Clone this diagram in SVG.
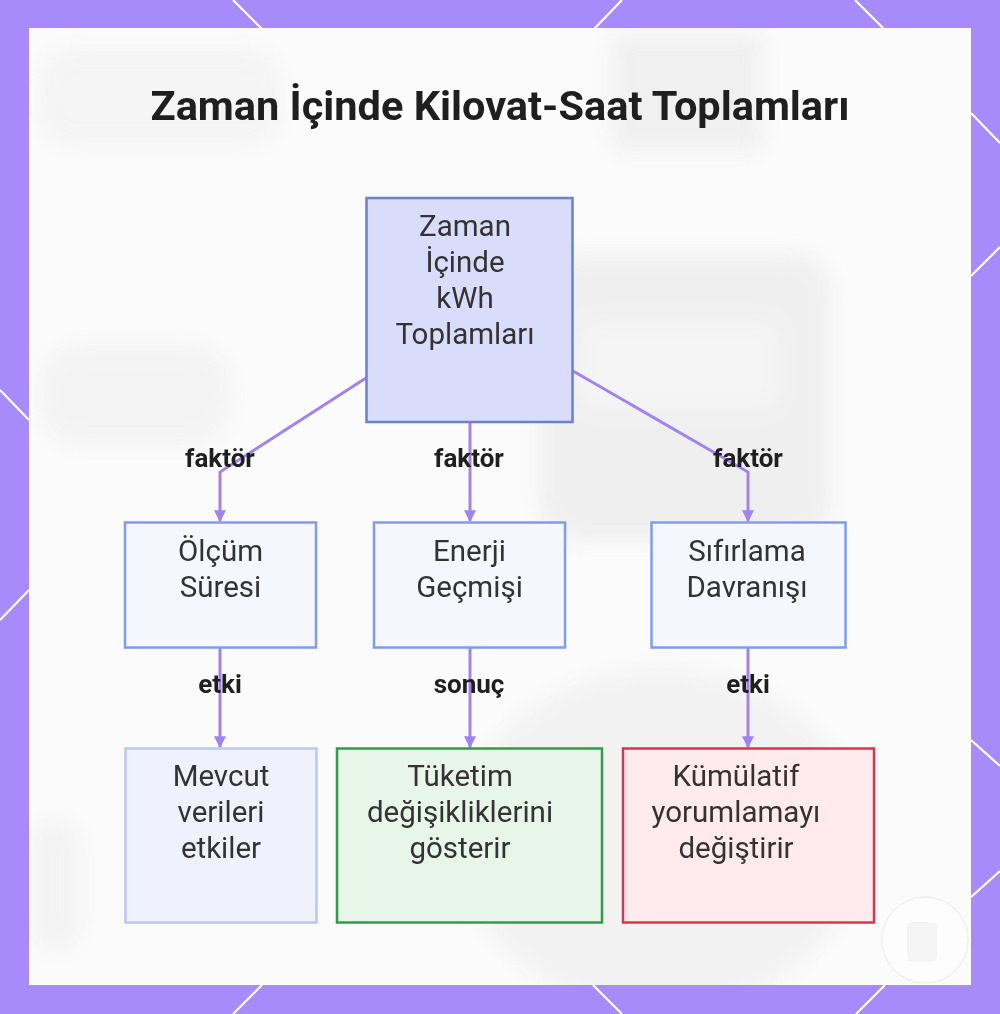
<svg xmlns="http://www.w3.org/2000/svg" width="1000" height="1014" viewBox="0 0 1000 1014">
  <defs>
    <filter id="blur" x="-30%" y="-30%" width="160%" height="160%">
      <feGaussianBlur stdDeviation="10"/>
    </filter>
    <clipPath id="panelClip">
      <rect x="29" y="28" width="942" height="957"/>
    </clipPath>
    <marker id="arrow" viewBox="0 0 10 10" refX="9" refY="5" markerWidth="4" markerHeight="4" orient="auto" markerUnits="strokeWidth">
      <path d="M0,0 L10,5 L0,10 z" fill="#a083ee"/>
    </marker>
    <style>
      .frame-line { stroke: #ffffff; stroke-width: 2.2; }
      .conn { fill: none; stroke: #a083ee; stroke-width: 3; marker-end: url(#arrow); }
      .lbl { font-family: Roboto, "Liberation Sans", sans-serif; font-weight: 700; font-size: 26px; fill: #1f1f1f; text-anchor: middle; }
      .txt { font-family: Roboto, "Liberation Sans", sans-serif; font-size: 29.5px; fill: #333333; text-anchor: middle; }
      .title { font-family: Roboto, "Liberation Sans", sans-serif; font-weight: 700; font-size: 41.5px; fill: #1f1f1f; text-anchor: middle; }
    </style>
  </defs>

  <!-- frame -->
  <rect x="0" y="0" width="1000" height="1014" fill="#a78bfa"/>
  <g class="frame-line">
    <line x1="233" y1="0" x2="262" y2="29"/>
    <line x1="622" y1="0" x2="594" y2="29"/>
    <line x1="855" y1="0" x2="884" y2="29"/>
    <line x1="262" y1="985" x2="233" y2="1014"/>
    <line x1="593" y1="985" x2="622" y2="1014"/>
    <line x1="885" y1="985" x2="856" y2="1014"/>
    <line x1="0" y1="390" x2="29" y2="420"/>
    <line x1="29" y1="590" x2="0" y2="620"/>
    <line x1="971" y1="113" x2="1000" y2="143"/>
    <line x1="971" y1="276" x2="1000" y2="247"/>
    <line x1="971" y1="740" x2="1000" y2="766"/>
    <line x1="971" y1="897" x2="1000" y2="871"/>
  </g>

  <!-- panel -->
  <rect x="29" y="28" width="942" height="957" fill="#fbfbfb"/>
  <g clip-path="url(#panelClip)">
    <g filter="url(#blur)" opacity="0.75">
      <rect x="40" y="50" width="240" height="95" rx="30" fill="#ededed" opacity="0.6"/>
      <rect x="612" y="35" width="150" height="115" fill="#ececec"/>
      <rect x="540" y="255" width="290" height="285" rx="35" fill="#ebebeb"/>
      <rect x="580" y="320" width="200" height="90" rx="20" fill="#f3f3f3"/>
      <rect x="40" y="345" width="190" height="100" rx="40" fill="#ececec" opacity="0.7"/>
      <ellipse cx="660" cy="840" rx="200" ry="170" fill="#efefef"/>
      <rect x="30" y="820" width="50" height="130" rx="25" fill="#ececec" opacity="0.7"/>
    </g>
    <circle cx="925" cy="940" r="43" fill="#fdfdfd" stroke="#f0f0f0" stroke-width="1.5"/>
    <rect x="907" y="922" width="30" height="40" rx="6" fill="#f5f5f5"/>
  </g>

  <text class="title" x="500" y="120">Zaman İçinde Kilovat-Saat Toplamları</text>

  <!-- connectors -->
  <g id="connectors">
    <path class="conn" d="M366,378 L220,472 L220,521"/>
    <path class="conn" d="M470,422 L470,521"/>
    <path class="conn" d="M573,371 L748,472 L748,521"/>
    <path class="conn" d="M220,648 L220,747"/>
    <path class="conn" d="M470,648 L470,747"/>
    <path class="conn" d="M748,648 L748,747"/>
    <text class="lbl" x="220" y="467">faktör</text>
    <text class="lbl" x="469" y="467">faktör</text>
    <text class="lbl" x="748" y="467">faktör</text>
    <text class="lbl" x="220" y="693">etki</text>
    <text class="lbl" x="469" y="693">sonuç</text>
    <text class="lbl" x="748" y="693">etki</text>
  </g>

  <g id="root">
    <rect x="366.5" y="198" width="206" height="224" fill="#d9ddfb" stroke="#6a7fd6" stroke-width="2.5"/>
    <text class="txt" x="465" y="236">Zaman</text>
    <text class="txt" x="465" y="272">İçinde</text>
    <text class="txt" x="465" y="308">kWh</text>
    <text class="txt" x="465" y="344">Toplamları</text>
  </g>

  <g id="olcum">
    <rect x="125" y="522.5" width="191" height="125" fill="#f5f7ff" stroke="#7f9cee" stroke-width="2.5"/>
    <text class="txt" x="220.5" y="561">Ölçüm</text>
    <text class="txt" x="220.5" y="597">Süresi</text>
  </g>

  <g id="enerji">
    <rect x="374" y="522.5" width="191" height="125" fill="#f5f7ff" stroke="#7f9cee" stroke-width="2.5"/>
    <text class="txt" x="469.5" y="561">Enerji</text>
    <text class="txt" x="469.5" y="597">Geçmişi</text>
  </g>

  <g id="sifirlama">
    <rect x="651.5" y="522.5" width="194" height="125" fill="#f5f7ff" stroke="#7f9cee" stroke-width="2.5"/>
    <text class="txt" x="747" y="561">Sıfırlama</text>
    <text class="txt" x="747" y="597">Davranışı</text>
  </g>

  <g id="mevcut">
    <rect x="125.5" y="748.5" width="191" height="174" fill="#eff2fe" stroke="#b9c7f4" stroke-width="2.5"/>
    <text class="txt" x="221" y="786">Mevcut</text>
    <text class="txt" x="221" y="822">verileri</text>
    <text class="txt" x="221" y="858">etkiler</text>
  </g>

  <g id="tuketim">
    <rect x="337" y="748.5" width="265" height="174" fill="#e8f5e9" stroke="#2f9e44" stroke-width="2.5"/>
    <text class="txt" x="460" y="786">Tüketim</text>
    <text class="txt" x="460" y="822">değişikliklerini</text>
    <text class="txt" x="460" y="858">gösterir</text>
  </g>

  <g id="kumulatif">
    <rect x="623" y="748.5" width="251" height="174" fill="#ffebee" stroke="#d03a4c" stroke-width="2.5"/>
    <text class="txt" x="736" y="786">Kümülatif</text>
    <text class="txt" x="736" y="822">yorumlamayı</text>
    <text class="txt" x="736" y="858">değiştirir</text>
  </g>
</svg>
